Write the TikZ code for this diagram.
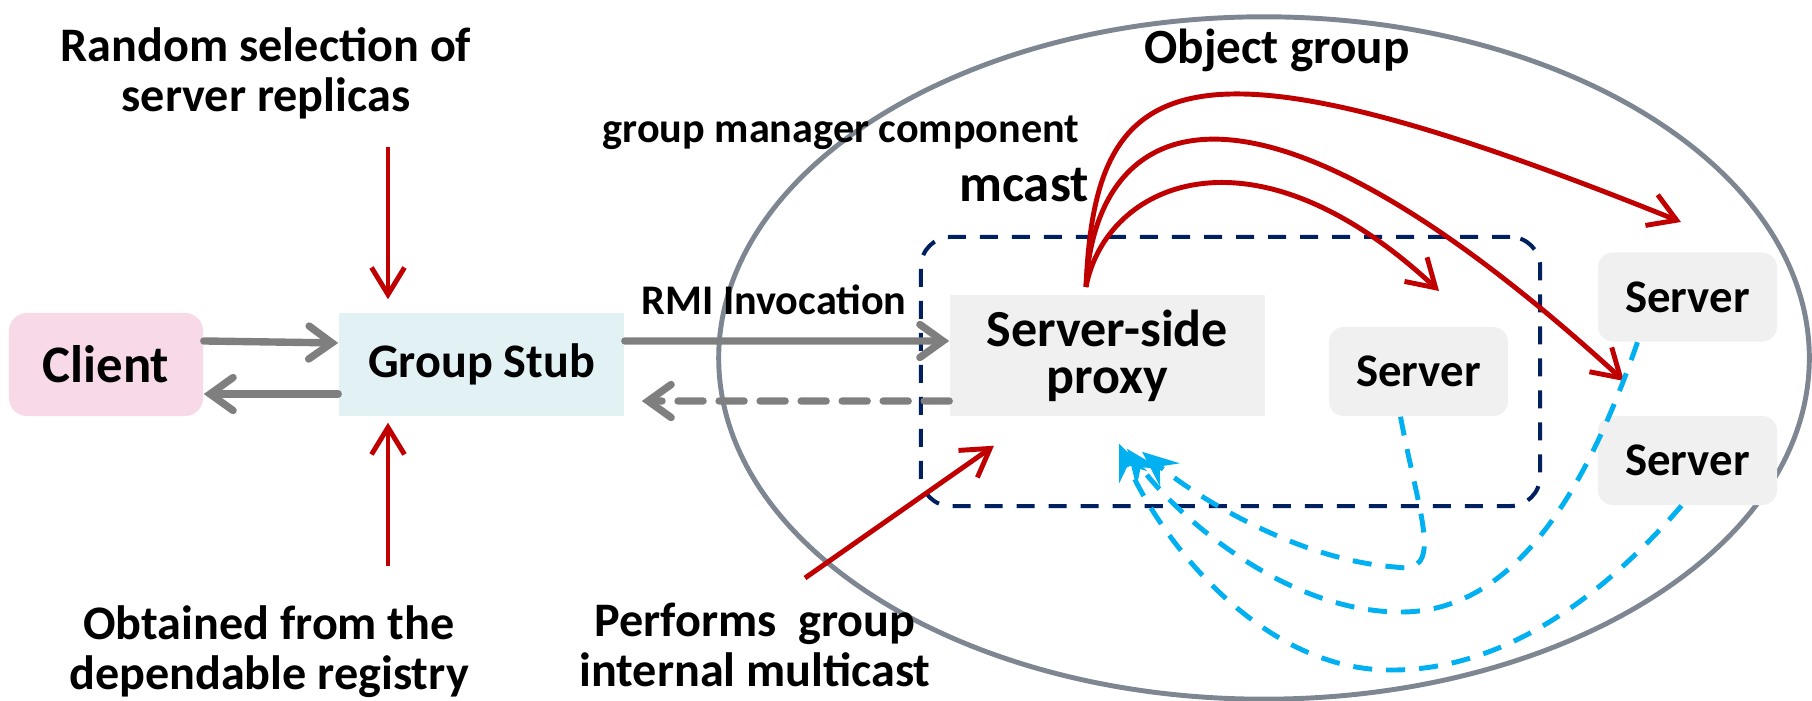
\documentclass[tikz,border=0pt]{standalone}
\usepackage{fontspec}
\setmainfont{Carlito}
\usetikzlibrary{arrows.meta}
\usetikzlibrary{positioning}

\definecolor{mcred}{HTML}{C00000}
\definecolor{linkgray}{HTML}{7F7F7F}
\definecolor{grpnavy}{HTML}{002060}
\definecolor{replyblue}{HTML}{00B0F0}
\definecolor{ringgray}{HTML}{7D8691}
\definecolor{clientpink}{HTML}{F8D9E8}
\definecolor{stubcyan}{HTML}{E2F1F3}
\definecolor{boxgray}{HTML}{F0F0F0}

\tikzset{
    lbl/.style={font=\fontsize{13.7}{14.2}\selectfont\bfseries, align=center, inner sep=0pt},
    lblsmall/.style={font=\fontsize{12}{14}\selectfont\bfseries, inner sep=0pt},
    compbox/.style={fill=#1, inner sep=0pt},
    graylink/.style={draw=linkgray, line width=2.1pt, line cap=round,
        -{Straight Barb[length=2.3mm,width=3.3mm,line cap=round]}},
    redlink/.style={draw=mcred, line width=1.4pt,
        -{Straight Barb[length=2.7mm,width=3.3mm]}},
    bluelink/.style={draw=replyblue, line width=1.4pt, dash pattern=on 0.19cm off 0.14cm,
        -{Stealth[length=3.6mm,width=3mm,inset=1.3mm]}},
}

\begin{document}
\begin{tikzpicture}[x=0.01cm, y=-0.01cm]
    \useasboundingbox (0,0) rectangle (1812,701);

    % object group
    \draw[ringgray, line width=1.4pt] (1264,358) ellipse [x radius=5.45cm, y radius=3.41cm];
    \node[
        draw=grpnavy, line width=1.15pt,
        dash pattern=on 0.18cm off 0.14cm,
        rounded corners=0.3cm,
        minimum width=6.19cm, minimum height=2.69cm
    ] (mcastgrp) at (1230.5,371.5) {};

    \node[
        compbox=clientpink, rounded corners=0.18cm,
        minimum width=1.94cm, minimum height=1.03cm,
        font=\fontsize{15}{18}\selectfont\bfseries
    ] (client) at (106,364.5) {Client};
    \node[
        compbox=stubcyan,
        minimum width=2.85cm, minimum height=1.03cm,
        font=\fontsize{13.7}{16}\selectfont\bfseries
    ] (stub) at (481.5,364.5) {Group Stub};
    \node[
        compbox=boxgray, align=center,
        minimum width=3.15cm, minimum height=1.21cm,
        font=\fontsize{14.8}{13.4}\selectfont\bfseries
    ] (proxy) at (1107.5,355.5) {Server-side\\proxy};
    \foreach \nm/\cx/\cy in {srvA/1418.5/371.5, srvB/1687.5/297, srvC/1687.5/460.5}{%
        \node[
            compbox=boxgray, rounded corners=0.15cm,
            minimum width=1.79cm, minimum height=0.89cm,
            font=\fontsize{13.3}{16}\selectfont\bfseries
        ] (\nm) at (\cx,\cy) {Server};
    }

    % labels
    \node[lbl] (rand) at (266,73) {Random selection of\\server replicas};
    \node[lbl] (obt) at (269,652) {Obtained from the\\dependable registry};
    \node[lbl] (perf) at (755,645) {Performs\ \ group\\internal multicast};
    \node[lbl, font=\fontsize{14}{16}\selectfont\bfseries] (objgrp) at (1277,50) {Object group};
    \node[lblsmall] (gmc) at (841,133) {group manager component};
    \node[lbl, font=\fontsize{15}{17}\selectfont\bfseries] (mcast) at (1024,185) {mcast};
    \node[lblsmall] (rmi) at (774,300) {RMI Invocation};

    % invocation path
    \draw[graylink] ([yshift=0.235cm]client.east) -- ([yshift=0.215cm]stub.west);
    \draw[graylink] ([yshift=-0.295cm]stub.west) -- ([yshift=-0.295cm]client.east);
    \draw[graylink] ([yshift=0.235cm]stub.east) -- ([yshift=0.145cm]proxy.west);
    \draw[graylink, dash pattern=on 0.25cm off 0.16cm]
        ([yshift=-0.455cm]proxy.west) -- ([xshift=0.17cm,yshift=-0.365cm]stub.east);

    % annotations
    \coordinate (randend) at (388,147);
    \coordinate (obtstart) at (388,566);
    \coordinate (perfstart) at (805,578);
    \draw[redlink, shorten >=0.13cm] (randend) -- (randend |- stub.north);
    \draw[redlink, shorten >=0.06cm] (obtstart) -- (obtstart |- stub.south);
    \draw[redlink] (perfstart) -- ([xshift=-1.135cm,yshift=-0.29cm]proxy.south);

    % multicast
    \coordinate (fanout) at (1086,287);
    \draw[redlink] (fanout) .. controls (1105,185) and (1250,115) .. (1439,291);
    \draw[redlink] (fanout) .. controls (1095,120) and (1240,30) .. (1624,381);
    \draw[redlink] (fanout) .. controls (1095,70) and (1180,20) .. (1681,222);

    % replies
    \draw[bluelink] ([xshift=-0.18cm]srvA.south) .. controls (1420,520) and (1445,575) .. (1395,567)
        .. controls (1300,560) and (1200,500) .. ([xshift=0.345cm,yshift=-0.35cm]proxy.south);
    \draw[bluelink] ([xshift=-0.5cm]srvB.south) .. controls (1590,480) and (1520,610) .. (1404,612)
        .. controls (1290,614) and (1180,520) .. ([xshift=0.195cm,yshift=-0.32cm]proxy.south);
    \draw[bluelink] ([xshift=-0.06cm]srvC.south) .. controls (1600,600) and (1500,672) .. (1387,670)
        .. controls (1260,668) and (1160,540) .. ([xshift=0.115cm,yshift=-0.27cm]proxy.south);
\end{tikzpicture}
\end{document}
